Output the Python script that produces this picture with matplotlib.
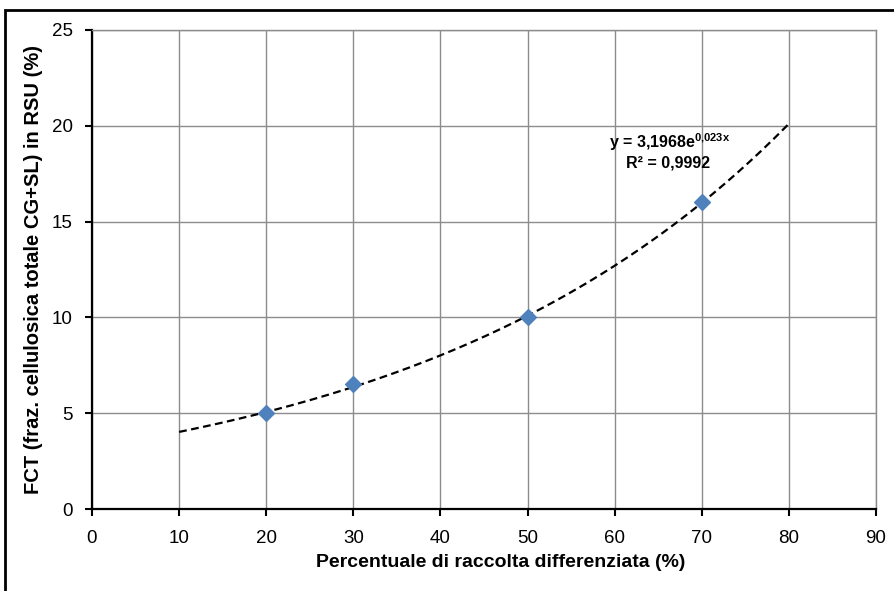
import numpy as np
import matplotlib
matplotlib.use('Agg')
import matplotlib.pyplot as plt
from matplotlib.patches import Rectangle

plt.rcParams['font.family'] = ['Liberation Sans Narrow', 'Liberation Sans', 'DejaVu Sans']
plt.rcParams['mathtext.fontset'] = 'custom'
plt.rcParams['mathtext.rm'] = 'Liberation Sans:bold'
plt.rcParams['mathtext.it'] = 'Liberation Sans:bold'
plt.rcParams['mathtext.bf'] = 'Liberation Sans:bold'

# Dati
raccolta = [20, 30, 50, 70]
fct = [5, 6.5, 10, 16]
trend_da, trend_a = 10, 80
equazione = 'y = 3,1968e$^{0{,}023x}$'
r_quadro = 'R² = 0,9992'

# Trendline esponenziale (fit sui dati)
b, ln_a = np.polyfit(raccolta, np.log(fct), 1)
xt = np.linspace(trend_da, trend_a, 200)
yt = np.exp(ln_a) * np.exp(b * xt)

fig = plt.figure(figsize=(8.95, 5.91), dpi=100)
ax = fig.add_axes([92 / 895, 1 - 509 / 591, 784 / 895, 479 / 591])

ax.plot(xt, yt, color='black', linestyle=(0, (3.5, 2)), linewidth=1.6, zorder=3)
ax.scatter(raccolta, fct, marker='D', s=65, color='#4F81BD', zorder=4)

ax.set_xlim(0, 90)
ax.set_ylim(0, 25)
ax.set_xticks(np.arange(0, 91, 10))
ax.set_yticks(np.arange(0, 26, 5))
ax.grid(True, color='#8c8c8c', linewidth=1)
ax.set_axisbelow(True)
for s in ['top', 'right']:
    ax.spines[s].set_color('#8c8c8c')
    ax.spines[s].set_linewidth(1)
for s in ['left', 'bottom']:
    ax.spines[s].set_color('black')
    ax.spines[s].set_linewidth(1.6)
ax.tick_params(direction='out', length=5, width=1.5, labelsize=13.5)
ax.tick_params(axis='x', pad=10)
ax.tick_params(axis='y', pad=9)

ax.set_xlabel('Percentuale di raccolta differenziata (%)', fontsize=14, fontweight='bold')
ax.xaxis.set_label_coords((501 - 92) / 784, -0.094)
ax.set_ylabel('FCT (fraz. cellulosica totale CG+SL) in RSU (%)', fontsize=14.5, fontweight='bold')
ax.yaxis.set_label_coords(-0.062, 0.5)

ax.text(59.3, 18.84, equazione, fontsize=11.5, fontweight='bold', ha='left', va='baseline')
ax.text(66.1, 17.80, r_quadro, fontsize=11.5, fontweight='bold', ha='center', va='baseline')

# cornice esterna
fig.patches.append(Rectangle((5 / 895, -0.1), 1.2, 1.1 - 10 / 591,
                             transform=fig.transFigure, fill=False,
                             edgecolor='black', linewidth=2, clip_on=False))

fig.savefig('out.png', dpi=100)
